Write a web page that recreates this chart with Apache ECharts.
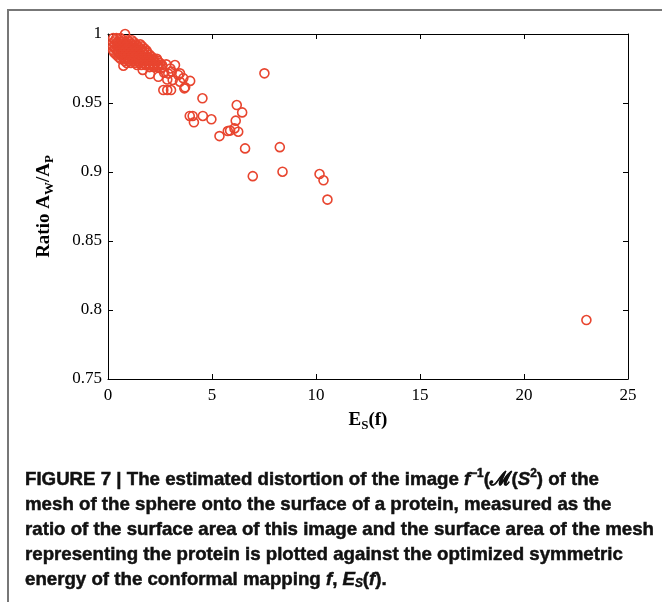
<!DOCTYPE html>
<html>
<head>
<meta charset="utf-8">
<script src="https://cdn.jsdelivr.net/npm/echarts@6/dist/echarts.min.js"></script>
<style>
  html, body { margin: 0; padding: 0; background: #fff; }
  #chart { width: 662px; height: 602px; }
</style>
</head>
<body>
<div id="chart"></div>
<script>
// dense cluster near E_S ~ 0..2.6
var denseCluster = [
    [0.25,0.997],[0.4,0.997],[0.6,0.997],
    [0.35,0.9955],[0.55,0.9955],[0.75,0.9955],[0.95,0.9955],[1.15,0.9955],
    [0.25,0.994],[0.45,0.994],[0.65,0.994],[0.85,0.994],[1.05,0.994],[1.25,0.994],
    [0.35,0.9925],[0.55,0.9925],[0.75,0.9925],[0.95,0.9925],[1.15,0.9925],[1.35,0.9925],[1.55,0.9925],
    [0.25,0.991],[0.45,0.991],[0.65,0.991],[0.85,0.991],[1.05,0.991],[1.25,0.991],[1.45,0.991],[1.65,0.991],
    [0.35,0.9895],[0.55,0.9895],[0.75,0.9895],[0.95,0.9895],[1.15,0.9895],[1.35,0.9895],[1.55,0.9895],[1.75,0.9895],
    [0.25,0.988],[0.45,0.988],[0.65,0.988],[0.85,0.988],[1.05,0.988],[1.25,0.988],[1.45,0.988],[1.65,0.988],[1.85,0.988],
    [0.3,0.9865],[0.5,0.9865],[0.7,0.9865],[0.9,0.9865],[1.1,0.9865],[1.3,0.9865],[1.5,0.9865],[1.7,0.9865],[1.9,0.9865],
    [0.4,0.985],[0.6,0.985],[0.8,0.985],[1.0,0.985],[1.2,0.985],[1.4,0.985],[1.6,0.985],[1.8,0.985],[2.0,0.985],
    [0.5,0.9835],[0.7,0.9835],[0.9,0.9835],[1.1,0.9835],[1.3,0.9835],[1.5,0.9835],[1.7,0.9835],[1.9,0.9835],[2.1,0.9835],
    [0.6,0.982],[0.8,0.982],[1.0,0.982],[1.2,0.982],[1.4,0.982],[1.6,0.982],[1.8,0.982],[2.0,0.982],[2.2,0.982],[2.35,0.982],
    [0.8,0.9805],[1.0,0.9805],[1.2,0.9805],[1.4,0.9805],[1.6,0.9805],[1.8,0.9805],[2.0,0.9805],[2.2,0.9805],[2.4,0.9805],
    [0.9,0.979],[1.1,0.979],[1.3,0.979],[1.5,0.979],[1.7,0.979],[1.9,0.979],[2.1,0.979],[2.3,0.979],[2.5,0.979],
    [1.4,0.9775],[1.6,0.9775],[1.8,0.9775],[2.0,0.9775],[2.2,0.9775],[2.4,0.9775],[2.6,0.9775],
    [2.0,0.976],[2.2,0.976],[2.4,0.976],[2.6,0.976]
];

// single circles around the cluster and along the tail
var spreadPoints = [
    [0.82,1.0],[0.74,0.977],[1.67,0.974],[2.02,0.971],[2.42,0.969],[2.85,0.967],
    [2.9,0.9713],[3.0,0.975],[3.22,0.9775],[3.06,0.9727],[3.38,0.9703],[3.11,0.9667],
    [3.46,0.9654],[3.46,0.9715],[3.62,0.968],[3.95,0.966],[3.71,0.9614],[3.67,0.9606],
    [2.66,0.9594],[2.85,0.9594],[3.03,0.9594],[2.7,0.972],[2.55,0.975],[2.8,0.978],
    [4.54,0.9534],[6.19,0.9485],[6.45,0.9432],[3.93,0.9406],[4.07,0.9406],[4.13,0.936],
    [4.56,0.9406],[4.97,0.9382],[6.14,0.9372],[5.76,0.9297],[5.87,0.930],[6.08,0.9316],
    [6.26,0.9292],[5.36,0.926],[6.59,0.9171],[8.26,0.918],[6.96,0.897],[8.39,0.9002],
    [10.17,0.8985],[10.36,0.894],[10.55,0.880],[23.0,0.7927],[7.52,0.9715]
];

var xTicks = [0, 25, 5];        // min, max, step
var yTicks = [0.75, 1, 0.05];

var captionLines = [
    '{n|FIGURE 7 | The estimated distortion of the image }{i|f}{sup|\u22121}{n|(\u2133(}{i|S}{sup|2}{n|) of the}',
    '{n|mesh of the sphere onto the surface of a protein, measured as the}',
    '{n|ratio of the surface area of this image and the surface area of the mesh}',
    '{n|representing the protein is plotted against the optimized symmetric}',
    '{n|energy of the conformal mapping }{i|f}{n|, }{i|E}{isub|S}{n|(}{i|f}{n|).}'
];

var red = '#e8452f';
var serif = '"Liberation Serif", "Times New Roman", serif';
var sans = '"Liberation Sans", Arial, sans-serif';

// caption font is a condensed bold sans: squeeze Liberation Sans to the same line width
var ctx = document.createElement('canvas').getContext('2d');
ctx.font = 'bold 19px ' + sans;
var capScale = 629 / ctx.measureText('ratio of the surface area of this image and the surface area of the mesh').width;

var capFont = {
    fontFamily: sans, fontWeight: 'bold', fontSize: 19, fill: '#111',
    stroke: '#111', lineWidth: 0.5, verticalAlign: 'middle'
};
var capRich = {
    n: capFont,
    i: Object.assign({}, capFont, { fontStyle: 'italic' }),
    sup: Object.assign({}, capFont, { fontSize: 12, padding: [0, 0, 12, 0] }),
    isub: Object.assign({}, capFont, { fontSize: 12, fontStyle: 'italic', padding: [8, 0, 0, 0] })
};

var nameRich = {
    t: { fontFamily: serif, fontWeight: 'bold', fontSize: 19, color: '#000', verticalAlign: 'middle' },
    s: { fontFamily: serif, fontWeight: 'bold', fontSize: 13, color: '#000', verticalAlign: 'middle', padding: [10, 0, 0, 0] }
};

var graphics = [{
    type: 'polyline',
    shape: { points: [[8, 602], [8, 10], [662, 10]] },
    style: { stroke: '#777', lineWidth: 2, fill: null },
    silent: true
}];
for (var i = 0; i < captionLines.length; i++) {
    graphics.push({
        type: 'text',
        x: 25,
        y: 480 + i * 25,
        scaleX: capScale,
        style: {
            text: captionLines[i],
            rich: capRich,
            font: 'bold 19px ' + sans,
            fill: '#111',
            verticalAlign: 'middle'
        },
        silent: true
    });
}

var tickStyle = { inside: true, length: 5, lineStyle: { color: '#000', width: 1 } };
var lineStyle = { show: true, onZero: false, lineStyle: { color: '#000', width: 1 } };
var labelStyle = { color: '#000', fontFamily: serif, fontSize: 17 };

var chart = echarts.init(document.getElementById('chart'), null, { renderer: 'canvas' });
var option = {
    animation: false,
    backgroundColor: '#fff',
    grid: { left: 108, right: 34, top: 34, bottom: 223 },
    xAxis: [{
        type: 'value', position: 'bottom',
        min: xTicks[0], max: xTicks[1], interval: xTicks[2],
        axisLine: lineStyle, axisTick: tickStyle,
        axisLabel: Object.assign({ margin: 8 }, labelStyle),
        splitLine: { show: false },
        name: '{t|E}{s|S}{t|(f)}',
        nameLocation: 'middle', nameGap: 30,
        nameTextStyle: { rich: nameRich }
    }, {
        type: 'value', position: 'top',
        min: xTicks[0], max: xTicks[1], interval: xTicks[2],
        axisLine: lineStyle, axisTick: tickStyle,
        axisLabel: { show: false }, splitLine: { show: false }
    }],
    yAxis: [{
        type: 'value', position: 'left',
        min: yTicks[0], max: yTicks[1], interval: yTicks[2],
        axisLine: lineStyle, axisTick: tickStyle,
        axisLabel: Object.assign({
            margin: 6,
            formatter: function (v) { return String(+v.toFixed(2)); }
        }, labelStyle),
        splitLine: { show: false },
        name: '{t|Ratio A}{s|W}{t|/A}{s|P}',
        nameLocation: 'middle', nameGap: 52, nameRotate: 90,
        nameTextStyle: { rich: nameRich }
    }, {
        type: 'value', position: 'right',
        min: yTicks[0], max: yTicks[1], interval: yTicks[2],
        axisLine: lineStyle, axisTick: tickStyle,
        axisLabel: { show: false }, splitLine: { show: false }
    }],
    series: [{
        type: 'scatter',
        xAxisIndex: 0, yAxisIndex: 0,
        symbol: 'circle',
        symbolSize: 9,
        clip: false,
        itemStyle: { color: 'rgba(0,0,0,0)', borderColor: red, borderWidth: 1.6, opacity: 1 },
        data: denseCluster.concat(spreadPoints)
    }],
    graphic: graphics
};
chart.setOption(option);
</script>
</body>
</html>
